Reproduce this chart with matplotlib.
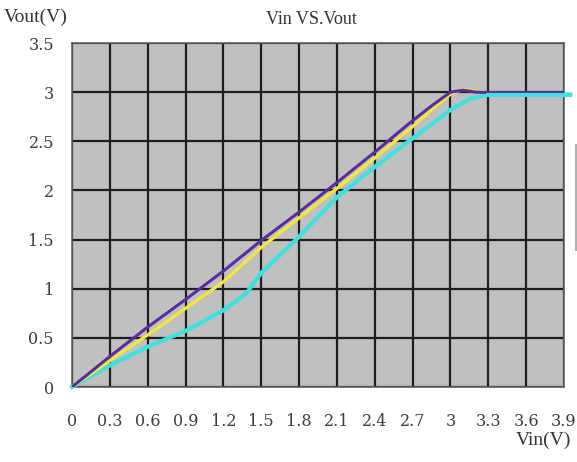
import matplotlib
matplotlib.use("Agg")
import matplotlib.pyplot as plt
from matplotlib.lines import Line2D

# Data
vin_purple = [0.0, 0.3, 0.6, 0.9, 1.2, 1.5, 1.8, 2.1, 2.4, 2.7, 2.85, 3.0, 3.1, 3.2, 3.3, 3.6, 3.9]
vout_purple = [0.0, 0.31, 0.61, 0.89, 1.18, 1.49, 1.78, 2.08, 2.39, 2.71, 2.86, 3.0, 3.02, 3.0, 2.995, 2.995, 2.995]

vin_yellow = [0.0, 0.3, 0.6, 0.9, 1.2, 1.5, 1.8, 2.1, 2.4, 2.7, 2.85, 3.0, 3.1, 3.2, 3.3, 3.6, 3.9]
vout_yellow = [0.0, 0.27, 0.53, 0.8, 1.07, 1.42, 1.72, 2.02, 2.33, 2.65, 2.82, 2.98, 3.03, 3.01, 2.99, 2.98, 2.98]

vin_cyan = [0.0, 0.3, 0.6, 0.9, 1.2, 1.38, 1.5, 1.8, 2.1, 2.4, 2.7, 3.0, 3.15, 3.3, 3.6, 3.95]
vout_cyan = [0.0, 0.22, 0.41, 0.57, 0.78, 0.95, 1.16, 1.53, 1.93, 2.24, 2.53, 2.82, 2.93, 2.975, 2.975, 2.975]

x_ticks = [0, 0.3, 0.6, 0.9, 1.2, 1.5, 1.8, 2.1, 2.4, 2.7, 3.0, 3.3, 3.6, 3.9]
x_labels = ["0", "0.3", "0.6", "0.9", "1.2", "1.5", "1.8", "2.1", "2.4", "2.7", "3", "3.3", "3.6", "3.9"]
y_ticks = [0, 0.5, 1, 1.5, 2, 2.5, 3, 3.5]
y_labels = ["0", "0.5", "1", "1.5", "2", "2.5", "3", "3.5"]

plt.rcParams['font.family'] = ['Liberation Serif', 'DejaVu Serif']

fig = plt.figure(figsize=(5.77, 4.62), dpi=100)
fig.patch.set_facecolor('white')
ax = fig.add_axes([72/577, (462-387)/462, 492/577, 344/462])
ax.set_facecolor('#c0c0c0')

ax.set_xlim(0, 3.9)
ax.set_ylim(0, 3.5)
ax.set_xticks(x_ticks)
ax.set_xticklabels(x_labels, family=['DejaVu Serif'])
ax.set_yticks(y_ticks)
ax.set_yticklabels(y_labels, family=['DejaVu Serif'])
ax.tick_params(length=0, labelsize=11.5, colors='#3c3c3c')
ax.tick_params(axis='x', pad=19)
ax.tick_params(axis='y', pad=13)
ax.grid(True, color='#1e1e1e', linewidth=1.6)
ax.set_axisbelow(True)
for s in ax.spines.values():
    s.set_color('#606060')
    s.set_linewidth(1.2)

ax.plot(vin_cyan, vout_cyan, color='#3fe0e0', linewidth=3.0, clip_on=False, zorder=3)
ax.plot(vin_yellow, vout_yellow, color='#f2e640', linewidth=2.4, zorder=4)
ax.plot(vin_purple, vout_purple, color='#5a2ca0', linewidth=2.2, zorder=5)
# the flat tail of the cyan curve lies on top of the others
ax.plot(vin_cyan[-3:], vout_cyan[-3:], color='#3fe0e0', linewidth=3.0,
        clip_on=False, zorder=6)

fig.text(311/577, 1 - 20/462, "Vin VS.Vout", ha='center', va='center',
         fontsize=13, color='#333333')
fig.text(4/577, 1 - 17/462, "Vout(V)", ha='left', va='center',
         fontsize=14, color='#333333')
fig.text(571/577, 1 - 440/462, "Vin(V)", ha='right', va='center',
         fontsize=14, color='#333333')

fig.add_artist(Line2D([575.5/577, 575.5/577], [1 - 145/462, 1 - 250/462],
                      color='#b0b0b0', linewidth=1.5))

fig.savefig("out.png", dpi=100)
